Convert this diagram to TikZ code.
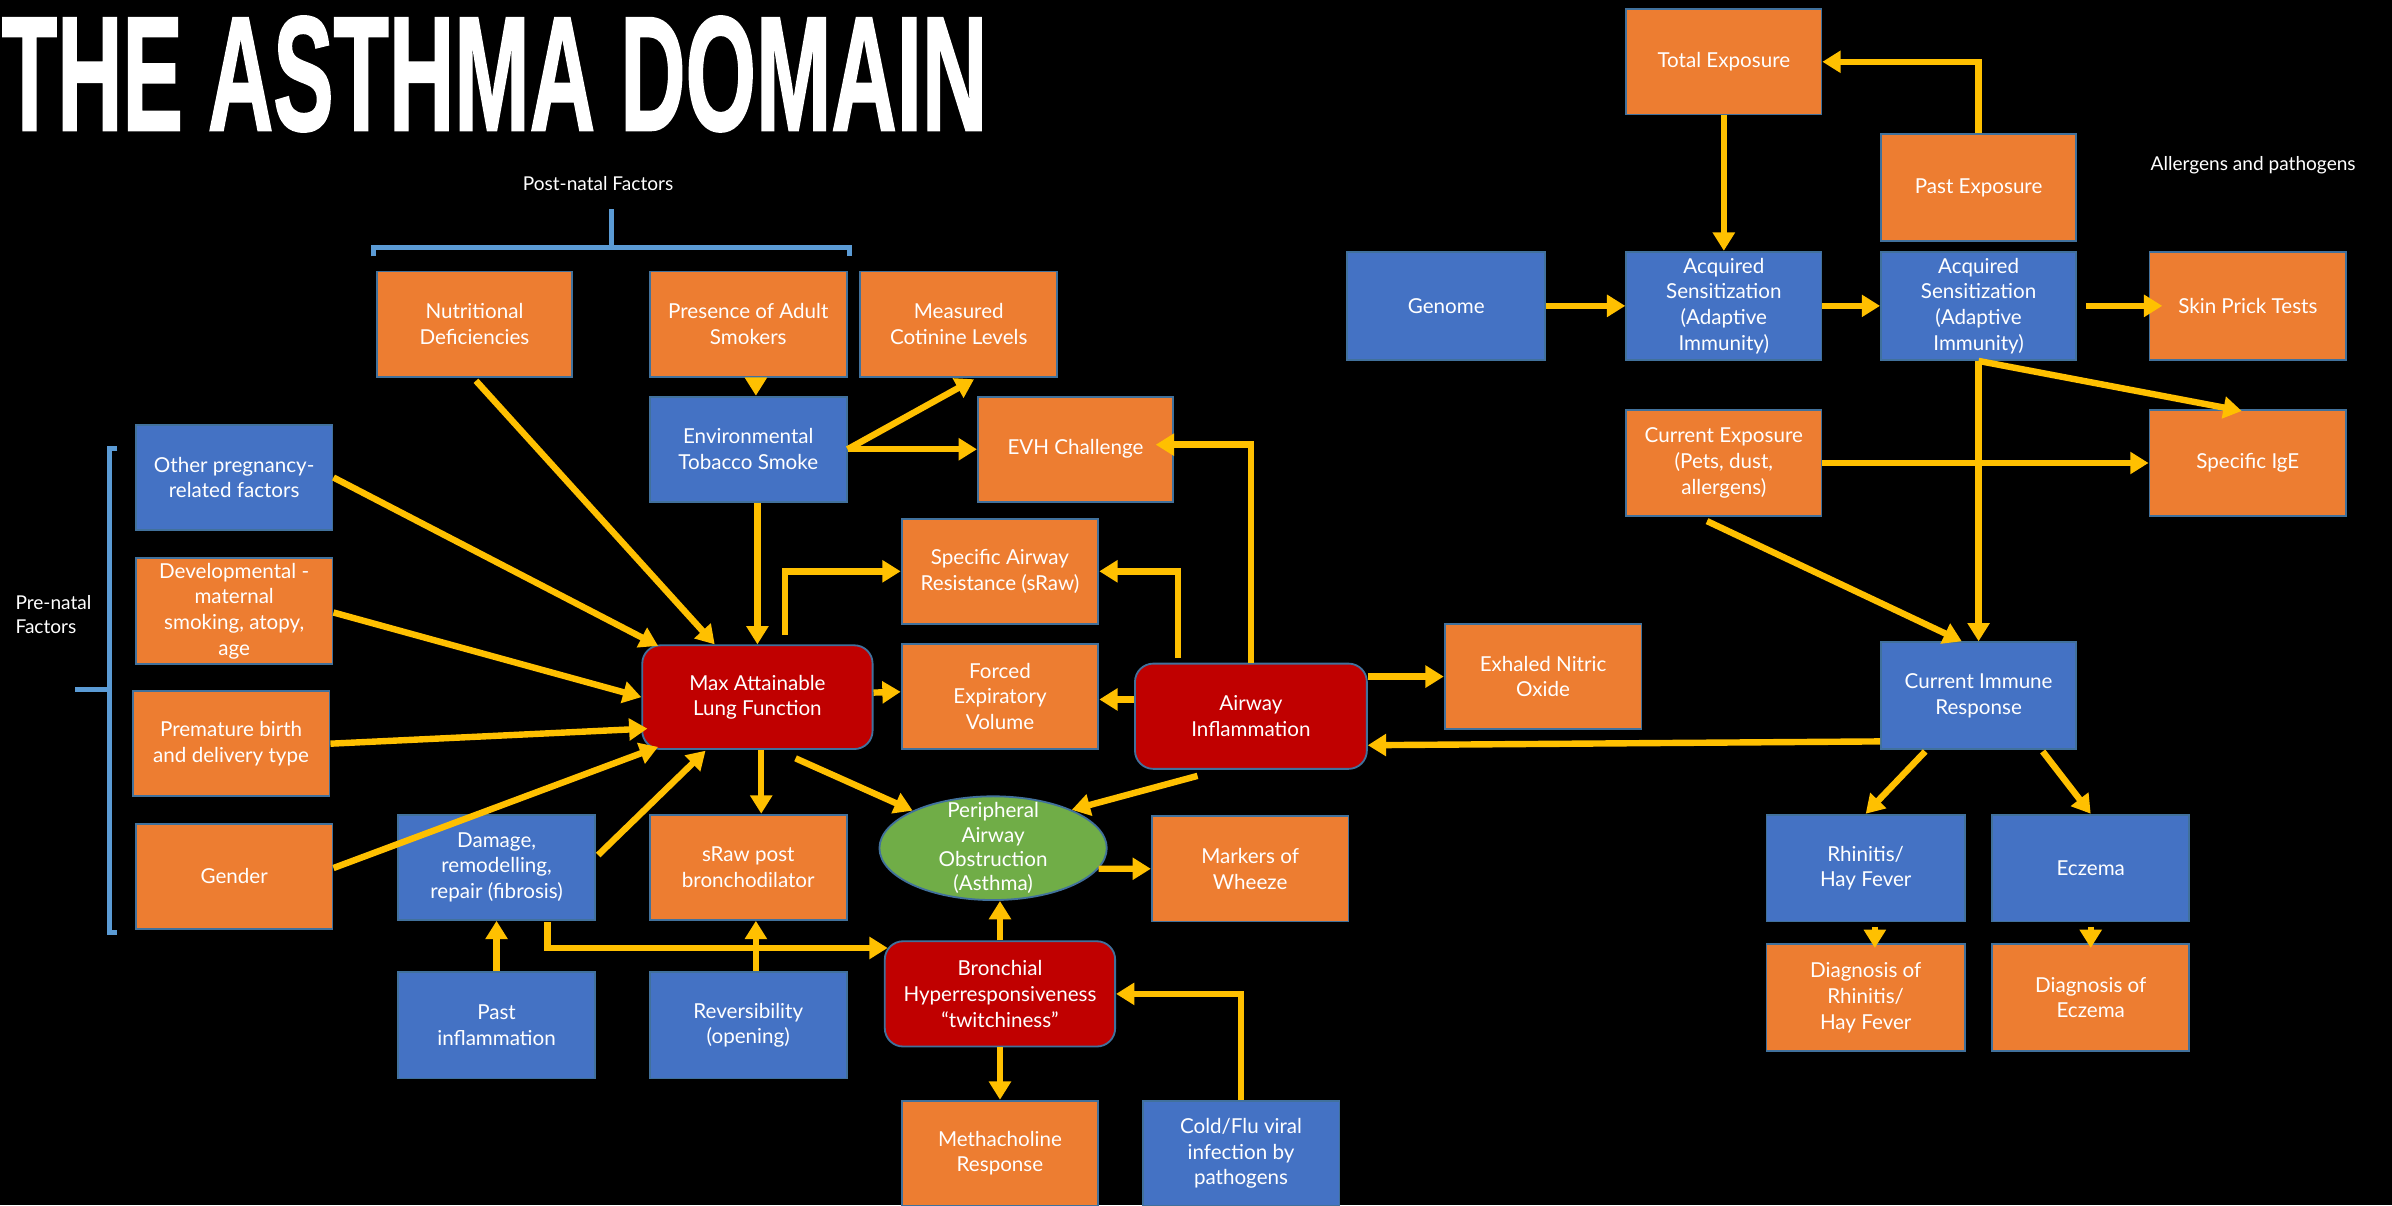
\documentclass[tikz,border=0pt]{standalone}
\usepackage{fontspec}
\setmainfont{Lato}
\newfontfamily\titlefont{Liberation Sans}[FakeBold=1.5]
\usetikzlibrary{arrows.meta,shapes.geometric,calc}

\definecolor{boxorange}{HTML}{ED7D31}
\definecolor{boxblue}{HTML}{4472C4}
\definecolor{boxred}{HTML}{C00000}
\definecolor{boxgreen}{HTML}{70AD47}
\definecolor{edgeblue}{HTML}{41719C}
\definecolor{gold}{HTML}{FFC000}
\definecolor{brkblue}{HTML}{5B9BD5}

\tikzset{
  box/.style={draw=edgeblue, line width=1.2pt, text=white, align=center,
    minimum width=129pt, minimum height=69pt, inner sep=1pt,
    font=\fontsize{13.5}{16.8}\selectfont},
  obox/.style={box, fill=boxorange},
  bbox/.style={box, fill=boxblue},
  rbox/.style={box, fill=boxred, rounded corners=12pt, minimum width=151pt},
  arr/.style={draw=gold, line width=4.2pt, -{Triangle[width=14pt,length=12pt]}},
  brk/.style={draw=brkblue, line width=3.3pt},
  note/.style={text=white, font=\fontsize{12.5}{15.5}\selectfont, inner sep=0pt}
}

\begin{document}
\begin{tikzpicture}[x=1pt,y=-1pt]
\useasboundingbox (0,0) rectangle (1568,790);
\fill[black] (0,0) rectangle (1568,790);

% title
\node[anchor=south west, inner sep=0pt, text=white] (title) at (1,86.5)
  {\resizebox{646pt}{74.5pt}{\titlefont\bfseries THE ASTHMA DOMAIN}};

% group labels and brackets
\node[note] (postnatal) at (392,120) {Post-natal Factors};
\draw[brk] (245,168) -- (245,162) -- (557,162) -- (557,168);
\draw[brk] (401,162) -- (401,137);
\node[note, anchor=west, align=left] (prenatal) at (10,403) {Pre-natal\\Factors};
\draw[brk] (77,294) -- (72,294) -- (72,611) -- (77,611);
\draw[brk] (72,452) -- (49,452);
\node[note] (allergens) at (1477,108) {Allergens and pathogens};

% pre-natal factors
\node[bbox] (other)  at (153.5,313)   {Other pregnancy-\\related factors};
\node[obox] (devel)  at (153.5,400.5) {Developmental -\\maternal\\smoking, atopy,\\age};
\node[obox] (prem)   at (151.5,487.5) {Premature birth\\and delivery type};
\node[obox] (gender) at (153.5,574.5) {Gender};

% post-natal factors
\node[obox, minimum width=128pt] (nutr) at (311,212.5) {Nutritional\\Deficiencies};
\node[obox] (adult) at (490.5,212.5) {Presence of Adult\\Smokers};
\node[obox] (cotin) at (628.5,212.5) {Measured\\Cotinine Levels};
\node[bbox] (ets)   at (490.5,294.5) {Environmental\\Tobacco Smoke};
\node[obox, minimum width=128pt] (evh) at (705,294.5) {EVH Challenge};

% lung function block
\node[rbox, minimum height=68pt] (maxlf) at (496.5,457) {Max Attainable\\Lung Function};
\node[obox] (sraw)   at (655.5,374.5) {Specific Airway\\Resistance (sRaw)};
\node[obox] (fev)    at (655.5,456.5) {Forced\\Expiratory\\Volume};
\node[rbox, minimum width=152pt] (airinf) at (820,469.5) {Airway\\Inflammation};
\node[obox] (eno)    at (1011.5,443.5) {Exhaled Nitric\\Oxide};
\node[bbox] (damage) at (325.5,568.5) {Damage,\\remodelling,\\repair (fibrosis)};
\node[obox] (srawpost) at (490.5,568.5) {sRaw post\\bronchodilator};
\node[ellipse, draw=edgeblue, line width=1.2pt, fill=boxgreen,
      minimum width=149pt, minimum height=68pt, inner sep=0pt] (pao) at (651,556) {};
\node[text=white, align=center, font=\fontsize{13.5}{16}\selectfont] (paotext) at (pao)
  {Peripheral\\Airway\\Obstruction\\(Asthma)};
\node[obox] (wheeze)  at (819.5,569.5) {Markers of\\Wheeze};
\node[bbox, minimum height=70pt] (pastinf) at (325.5,672) {Past\\inflammation};
\node[bbox, minimum height=70pt] (revers)  at (490.5,672) {Reversibility\\(opening)};
\node[rbox] (bhr) at (655.5,651.5) {Bronchial\\Hyperresponsiveness\\“twitchiness”};
\node[obox] (metha)   at (655.5,756) {Methacholine\\Response};
\node[bbox] (coldflu) at (813.5,756) {Cold/Flu viral\\infection by\\pathogens};

% immune block
\node[obox, minimum width=128pt] (totexp)  at (1130,40.5) {Total Exposure};
\node[obox, minimum width=128pt, minimum height=70pt] (pastexp) at (1297,123) {Past Exposure};
\node[bbox, minimum width=130pt, minimum height=71pt] (genome) at (948,200.5) {Genome};
\node[bbox, minimum width=128pt, minimum height=71pt] (acq1) at (1130,200.5) {Acquired\\Sensitization\\(Adaptive\\Immunity)};
\node[bbox, minimum width=128pt, minimum height=71pt] (acq2) at (1297,200.5) {Acquired\\Sensitization\\(Adaptive\\Immunity)};
\node[obox, minimum height=71pt] (skin) at (1473.5,200.5) {Skin Prick Tests};
\node[obox, minimum width=128pt] (curexp) at (1130,303.5) {Current Exposure\\(Pets, dust,\\allergens)};
\node[obox] (sige) at (1473.5,303.5) {Specific IgE};
\node[bbox, minimum width=128pt, minimum height=70pt] (cir) at (1297,456) {Current Immune\\Response};
\node[bbox, minimum width=130pt, minimum height=70pt] (rhin) at (1223,569) {Rhinitis/\\Hay Fever};
\node[bbox, minimum height=70pt] (eczema) at (1370.5,569) {Eczema};
\node[obox, minimum width=130pt, minimum height=70pt] (diagr) at (1223,654) {Diagnosis of\\Rhinitis/\\Hay Fever};
\node[obox, minimum height=70pt] (diage) at (1370.5,654) {Diagnosis of\\Eczema};

% connectors into lung function
\draw[arr] ($(nutr.south)+(1,2)$) -- ($(maxlf.north)+(-28,0)$);
\draw[arr] (other.east) -- ($(maxlf.north west)+(11,1)$);
\draw[arr] ($(devel.east)+(0,1)$) -- (maxlf.west);
\draw[arr] (prem.east) -- ($(maxlf.south west)+(4,-14)$);
\draw[arr] ($(gender.east)+(0,-5.5)$) -- ($(maxlf.south west)+(11,-2)$);
\draw[arr] ($(damage.east)+(1.5,-8)$) -- ($(maxlf.south)+(-34,0.5)$);
\draw[arr] (maxlf.north |- ets.south) -- (maxlf.north);
\draw[arr] ($(adult.south)+(5,0)$) -- ($(ets.north)+(5,0)$);
\draw[arr] (ets.east) -- ($(cotin.south)+(10,1)$);
\draw[arr] (ets.east) -- (evh.west);

% connectors out of lung function and inflammation
\draw[arr] ($(maxlf.north)+(18,-6)$) |- (sraw.west);
\draw[arr] ($(maxlf.east)+(0,-3)$) -- ($(fev.west)+(0,-3)$);
\draw[arr] ($(airinf.west)+(0,-11)$) -- ($(fev.east)+(0,2)$);
\draw[arr] ($(airinf.north)+(-48,-3)$) |- (sraw.east);
\draw[arr] (airinf.north) |- ($(evh.east)+(-12,-3)$);
\draw[arr] (airinf.east |- eno.west) -- (eno.west);
\draw[arr] ($(maxlf.south)+(2.5,0)$) -- ($(srawpost.north)+(8.5,0)$);
\draw[arr] ($(maxlf.south)+(25,5.5)$) -- (pao.155);
\draw[arr] ($(airinf.south)+(-35,4)$) -- (pao.26);
\draw[arr] (pao.-11) -- (wheeze.west);
\draw[arr] (bhr.north) -- (bhr.north |- pao.south);
\draw[arr] ($(damage.south)+(33.5,1)$) |- ($(bhr.north west)+(2.5,5)$);
\draw[arr] (pastinf.north) -- (damage.south);
\draw[arr] ($(revers.north)+(5,0)$) -- ($(srawpost.south)+(5,0)$);
\draw[arr] (bhr.south) -- (bhr.south |- metha.north);
\draw[arr] (coldflu.north) |- (bhr.east);
\draw[arr] ($(cir.west)+(0,30)$) -- ($(airinf.east)+(0,19)$);

% immune connectors
\draw[arr] (pastexp.north) |- (totexp.east);
\draw[arr] (totexp.south) -- (acq1.north);
\draw[arr] (genome.east) -- (acq1.west);
\draw[arr] (acq1.east) -- (acq2.west);
\draw[arr] ($(acq2.east)+(6,0)$) -- ($(skin.west)+(9,0)$);
\draw[arr] (acq2.south) -- (cir.north);
\draw[arr] (acq2.south) -- ($(sige.north)+(-4,1)$);
\draw[arr] (curexp.east) -- (sige.west);
\draw[arr] ($(curexp.south)+(-11,3)$) -- ($(cir.north)+(-11,0)$);
\draw[arr] ($(cir.south)+(-35,1)$) -- (rhin.north);
\draw[arr] ($(cir.south)+(42,1)$) -- (eczema.north);
\draw[arr] ($(rhin.south)+(6,3)$) -- ($(diagr.north)+(6,3)$);
\draw[arr] ($(eczema.south)+(0,3)$) -- ($(diage.north)+(0,3)$);
\end{tikzpicture}
\end{document}
